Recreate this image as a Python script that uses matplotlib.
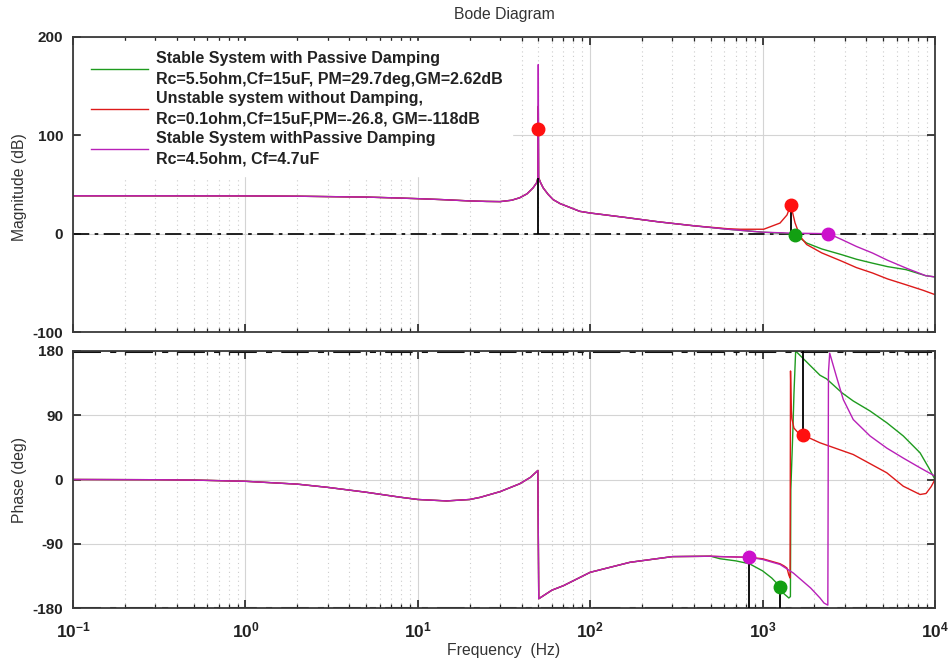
#!/usr/bin/env python3
import matplotlib
matplotlib.use('Agg')
import matplotlib.pyplot as plt

plt.rcParams['font.family'] = ['Liberation Sans', 'DejaVu Sans']
plt.rcParams['mathtext.fontset'] = 'custom'
plt.rcParams['mathtext.rm'] = 'Liberation Sans'
plt.rcParams['mathtext.bf'] = 'Liberation Sans:bold'
plt.rcParams['mathtext.default'] = 'bf'
plt.rcParams['axes.unicode_minus'] = False

# magnitude (dB), part shared by all three systems
f_mag_low = [0.1, 0.3, 1, 2, 3, 5, 7, 10, 14, 20, 25, 30, 35, 39, 43, 46.6, 49, 49.8]
mag_low = [38.5, 38.5, 38.4, 38.1, 37.7, 37.2, 36.5, 35.6, 34.6, 33.3, 32.8,
           32.6, 34.0, 36.5, 40.5, 46.5, 52, 57]
f_res = 50
mag_res_damped = 129.5
mag_res_magenta = 172
f_mag_mid = [50.2, 51.5, 53.4, 57, 61, 67, 73.4, 87, 100, 160, 250, 400]
mag_mid = [57, 52, 46.5, 40, 34.6, 30.5, 27.8, 22.7, 21, 16.5, 12, 8]

# magnitude above ~600 Hz, one list per system
f_mag_green = [630, 1000, 1300, 1545, 1650, 1800, 2200, 2880, 3500, 4342,
               5300, 6798, 8820, 10000]
mag_green = [4.5, 1.5, 0.5, -1, -4.5, -9.5, -15.5, -21.4, -26, -30, -33.5,
             -36.6, -42.7, -44]
f_mag_red = [630, 740, 1015, 1262, 1385, 1455, 1490, 1542, 1650, 1800, 2200,
             2880, 3500, 4342, 5300, 6798, 8500, 10000]
mag_red = [5, 4.5, 4.5, 10.8, 19, 29, 22, 11, -2.7, -11, -19.5, -28, -34.5,
           -40, -46, -52, -57.5, -62]
f_mag_magenta = [630, 1000, 1500, 2000, 2390, 2600, 2880, 3500, 4342, 5300,
                 6798, 8820, 10000]
mag_magenta = [4.5, 1.5, 0.5, 0.2, 0, -2.5, -6, -13, -19.7, -27, -35, -42.7,
               -44]

# phase (deg), shared part
f_ph_low = [0.1, 0.3, 0.5, 1, 2, 3, 5, 7.9, 10, 14.7, 20, 23, 30, 39, 45,
            49.7, 50.3, 60, 70, 100, 170, 300, 500]
ph_low = [0, -0.3, -0.8, -2.5, -6.5, -11, -17.8, -24.8, -28, -30, -28, -25,
          -17, -6, 3, 12.6, -167, -155, -148.7, -130, -116, -108, -107.5]

f_ph_green = [566, 700, 838, 1000, 1130, 1262, 1330, 1420, 1450, 1458, 1500,
              1520, 1555, 1600, 1900, 2153, 2350, 2880, 3355, 4198, 5252,
              6546, 8190, 9200, 10000]
ph_green = [-111, -114, -118, -128, -138, -150, -160, -166, -164, -14, 72,
            120, 180, 177, 159, 146, 141, 121.6, 110, 96, 79.5, 61, 37.4,
            16.4, 0]
f_ph_red = [566, 838, 1000, 1262, 1330, 1385, 1420, 1443, 1452, 1465, 1480,
            1520, 1600, 1722, 2153, 3355, 5252, 6546, 8190, 8870, 9500, 10000]
ph_red = [-108, -109, -111, -118, -121, -124, -134, -138, 152, 100, 85, 72,
          66, 62, 51.4, 35, 9.4, -9.4, -21, -19.6, -10, 0]
f_ph_magenta = [566, 838, 1000, 1262, 1507, 1900, 2153, 2270, 2390, 2410,
                2450, 2675, 2938, 3355, 4198, 5252, 6546, 8190, 10000]
ph_magenta = [-108, -109, -112, -119, -131, -152, -166, -173, -176, 150, 177,
              145, 112, 84, 61, 44, 30, 16.4, 4.7]

# stability margin markers
gm_f_red = [50, 1455]
gm_red = [106.5, 29]
gm_stem_top = [57, 29]
gm_f_green = [1545]
gm_green = [-1]
gm_f_magenta = [2390]
gm_magenta = [0]
pm_f = [838, 1262, 1722]
pm = [-109, -150, 62]

labels = ['Stable System with Passive Damping\n'
          'Rc=5.5ohm,Cf=15uF, PM=29.7deg,GM=2.62dB',
          'Unstable system without Damping,\n'
          'Rc=0.1ohm,Cf=15uF,PM=-26.8, GM=-118dB',
          'Stable System withPassive Damping\n'
          'Rc=4.5ohm, Cf=4.7uF']
xticks = [0.1, 1, 10, 100, 1000, 10000]
xticklabels = ['$10^{-1}$', '$10^{0}$', '$10^{1}$', '$10^{2}$', '$10^{3}$',
               '$10^{4}$']

GREEN = '#1e9b1e'
RED = '#dd1a1a'
MAGENTA = '#b820b8'


def style_axes(ax):
    ax.set_xscale('log')
    ax.set_xlim(0.1, 1e4)
    ax.set_xticks(xticks)
    ax.grid(True, which='major', color='#d4d4d4', lw=0.8, ls='-')
    ax.grid(True, which='minor', axis='x', color='#cccccc', lw=0.8,
            ls=(0, (1, 3)))
    ax.tick_params(which='both', direction='in', top=True, right=True,
                   colors='#222222', labelsize=11)
    ax.tick_params(which='major', length=6, width=1.2, pad=7)
    ax.tick_params(which='minor', length=3, width=0.9)
    ax.tick_params(axis='x', which='major', pad=9)
    for side in ax.spines.values():
        side.set_color('#3a3a3a')
        side.set_linewidth(1.3)
    for lbl in ax.get_yticklabels():
        lbl.set_fontweight('bold')
    ax.set_axisbelow(True)


fig = plt.figure(figsize=(9.5, 6.64), dpi=100)
ax_mag = fig.add_axes([73 / 950, 1 - 332 / 664, 862 / 950, 295 / 664])
ax_ph = fig.add_axes([73 / 950, 1 - 608 / 664, 862 / 950, 257 / 664])

# magnitude plot
mag_f = f_mag_low + [f_res] + f_mag_mid
green_m = mag_low + [mag_res_damped] + mag_mid + mag_green
red_m = mag_low + [mag_res_damped] + mag_mid + mag_red
mag_m = mag_low + [mag_res_magenta] + mag_mid + mag_magenta
ax_mag.axhline(0, color='#111111', lw=1.3, ls=(0, (9, 3, 2, 3)), zorder=2)
ax_mag.plot(mag_f + f_mag_green, green_m, color=GREEN, lw=1.0, label=labels[0])
ax_mag.plot(mag_f + f_mag_red, red_m, color=RED, lw=1.0, label=labels[1])
ax_mag.plot(mag_f + f_mag_magenta, mag_m, color=MAGENTA, lw=1.0,
            label=labels[2])
ax_mag.vlines(gm_f_red, 0, gm_stem_top, color='black', lw=1.3, zorder=3)
ax_mag.plot(gm_f_red, gm_red, 'o', color='#ff1010', ms=9, zorder=4)
ax_mag.plot(gm_f_green, gm_green, 'o', color='#12a012', ms=9, zorder=4)
ax_mag.plot(gm_f_magenta, gm_magenta, 'o', color='#cc10cc', ms=9, zorder=4)
ax_mag.set_ylim(-100, 200)
ax_mag.set_yticks([-100, 0, 100, 200])
style_axes(ax_mag)
ax_mag.set_xticklabels([])

leg = ax_mag.legend(loc='upper left', bbox_to_anchor=(0.0097, 0.985),
                    prop={'weight': 'bold', 'size': 11.5}, handlelength=3.6,
                    handletextpad=0.45, labelspacing=0.28, borderaxespad=0,
                    borderpad=0.6, frameon=True, fancybox=False,
                    framealpha=1, facecolor='white', edgecolor='white')
for t in leg.get_texts():
    t.set_linespacing(1.47)
    t.set_color('#222222')
leg.set_zorder(5)

# phase plot
ax_ph.axhline(180, color='#111111', lw=2.2, ls=(0, (9, 3, 2, 3)), zorder=2)
ax_ph.axhline(-180, color='#111111', lw=2.2, ls=(0, (9, 3, 2, 3)), zorder=2)
ax_ph.plot(f_ph_low + f_ph_green, ph_low + ph_green, color=GREEN, lw=1.0)
ax_ph.plot(f_ph_low + f_ph_red, ph_low + ph_red, color=RED, lw=1.0)
ax_ph.plot(f_ph_low + f_ph_magenta, ph_low + ph_magenta, color=MAGENTA, lw=1.0)
ax_ph.vlines(pm_f[:2], -180, pm[:2], color='black', lw=1.3, zorder=3)
ax_ph.vlines(pm_f[2], pm[2], 180, color='black', lw=1.3, zorder=3)
ax_ph.plot(pm_f[0], pm[0], 'o', color='#cc10cc', ms=9, zorder=4)
ax_ph.plot(pm_f[1], pm[1], 'o', color='#12a012', ms=9, zorder=4)
ax_ph.plot(pm_f[2], pm[2], 'o', color='#ff1010', ms=9, zorder=4)
ax_ph.set_ylim(-180, 180)
ax_ph.set_yticks([-180, -90, 0, 90, 180])
style_axes(ax_ph)
ax_ph.set_xticklabels(xticklabels, fontsize=12.5)

fig.text(504 / 950, 1 - 15 / 664, 'Bode Diagram', ha='center', va='center',
         fontsize=11.3, color='#333333')
fig.text(20 / 950, 1 - 187 / 664, 'Magnitude (dB)', rotation=90,
         ha='center', va='center', fontsize=11.3, color='#333333')
fig.text(20 / 950, 1 - 480 / 664, 'Phase (deg)', rotation=90,
         ha='center', va='center', fontsize=11.3, color='#333333')
fig.text(504 / 950, 1 - 651 / 664, 'Frequency  (Hz)', ha='center',
         va='center', fontsize=11.3, color='#333333')

fig.savefig('out.png', dpi=100)
